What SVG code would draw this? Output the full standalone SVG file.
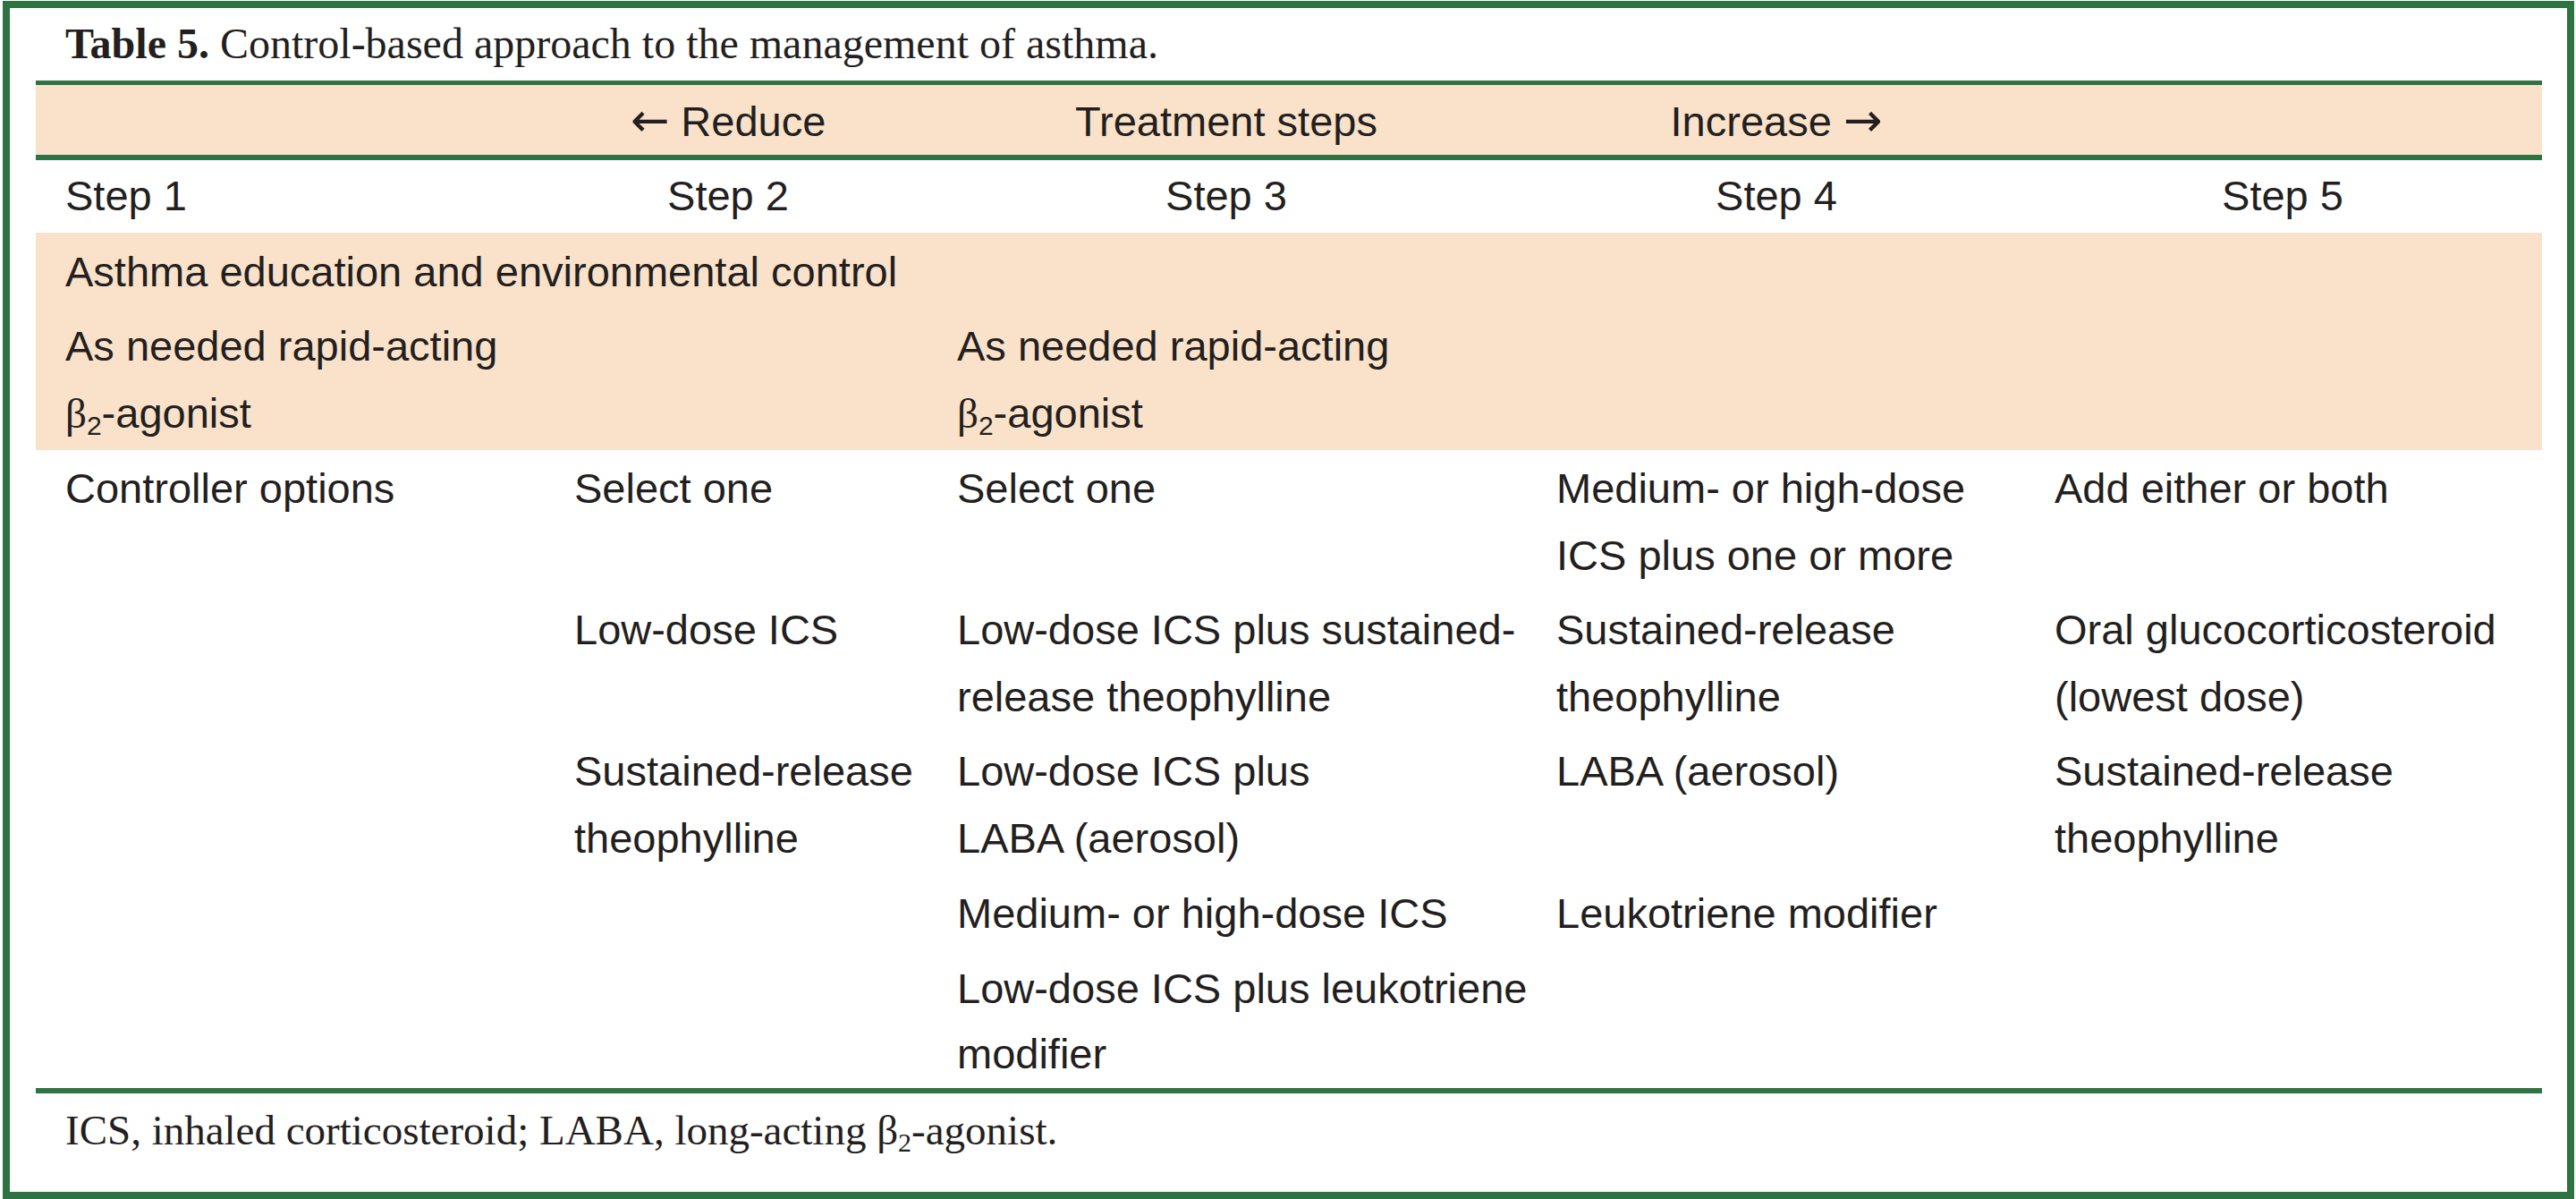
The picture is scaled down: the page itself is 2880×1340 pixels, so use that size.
<svg xmlns="http://www.w3.org/2000/svg" width="2880" height="1340" viewBox="0 0 2880 1340">
<style>
.t{font-family:"Liberation Sans",Arial,sans-serif;font-size:47px;fill:#231F20}
.m{text-anchor:middle}
.s{font-family:"Liberation Serif","Times New Roman",serif;fill:#231F20}
.a{font-family:"DejaVu Sans",sans-serif;font-size:52px}
.g{fill:#2F7342}
.p{fill:#F9E2C9}
</style>
<rect x="0" y="0" width="2880" height="1340" fill="#FFFFFF"/>
<g id="frame">
<rect x="7" y="5" width="2867" height="1331" fill="none" stroke="#2F7342" stroke-width="8"/>
</g>
<g id="bands">
<rect class="p" x="40" y="95" width="2802" height="79"/>
<rect class="p" x="40" y="260" width="2802" height="243"/>
</g>
<g id="rules">
<rect class="g" x="40" y="90" width="2802" height="5"/>
<rect class="g" x="40" y="173" width="2802" height="6"/>
<rect class="g" x="40" y="1216" width="2802" height="6"/>
</g>
<g id="title">
<text class="s" x="73" y="65" font-size="48"><tspan font-weight="bold">Table 5.</tspan> Control-based approach to the management of asthma.</text>
</g>
<g id="header">
<text class="t m" x="814" y="152"><tspan class="a">←</tspan> Reduce</text>
<text class="t m" x="1371" y="152">Treatment steps</text>
<text class="t m" x="1986" y="152">Increase <tspan class="a">→</tspan></text>
</g>
<g id="steps">
<text class="t" x="73" y="235">Step 1</text>
<text class="t m" x="814" y="235">Step 2</text>
<text class="t m" x="1371" y="235">Step 3</text>
<text class="t m" x="1986" y="235">Step 4</text>
<text class="t m" x="2552" y="235">Step 5</text>
</g>
<g id="common">
<text class="t" x="73" y="320">Asthma education and environmental control</text>
<text class="t" x="73" y="403">As needed rapid-acting</text>
<text class="t" x="73" y="478"><tspan font-family="Liberation Serif,serif">β</tspan><tspan font-size="30" dy="8">2</tspan><tspan dy="-8">-agonist</tspan></text>
<text class="t" x="1070" y="403">As needed rapid-acting</text>
<text class="t" x="1070" y="478"><tspan font-family="Liberation Serif,serif">β</tspan><tspan font-size="30" dy="8">2</tspan><tspan dy="-8">-agonist</tspan></text>
</g>
<g id="col1">
<text class="t" x="73" y="562">Controller options</text>
</g>
<g id="col2">
<text class="t" x="642" y="562">Select one</text>
<text class="t" x="642" y="720">Low-dose ICS</text>
<text class="t" x="642" y="878">Sustained-release</text>
<text class="t" x="642" y="953">theophylline</text>
</g>
<g id="col3">
<text class="t" x="1070" y="562">Select one</text>
<text class="t" x="1070" y="720">Low-dose ICS plus sustained-</text>
<text class="t" x="1070" y="795">release theophylline</text>
<text class="t" x="1070" y="878">Low-dose ICS plus</text>
<text class="t" x="1070" y="953">LABA (aerosol)</text>
<text class="t" x="1070" y="1037">Medium- or high-dose ICS</text>
<text class="t" x="1070" y="1121">Low-dose ICS plus leukotriene</text>
<text class="t" x="1070" y="1194">modifier</text>
</g>
<g id="col4">
<text class="t" x="1740" y="562">Medium- or high-dose</text>
<text class="t" x="1740" y="637">ICS plus one or more</text>
<text class="t" x="1740" y="720">Sustained-release</text>
<text class="t" x="1740" y="795">theophylline</text>
<text class="t" x="1740" y="878">LABA (aerosol)</text>
<text class="t" x="1740" y="1037">Leukotriene modifier</text>
</g>
<g id="col5">
<text class="t" x="2297" y="562">Add either or both</text>
<text class="t" x="2297" y="720">Oral glucocorticosteroid</text>
<text class="t" x="2297" y="795">(lowest dose)</text>
<text class="t" x="2297" y="878">Sustained-release</text>
<text class="t" x="2297" y="953">theophylline</text>
</g>
<g id="footnote">
<text class="s" x="73" y="1279" font-size="47">ICS, inhaled corticosteroid; LABA, long-acting β<tspan font-size="30" dy="8">2</tspan><tspan dy="-8">-agonist.</tspan></text>
</g>
</svg>
